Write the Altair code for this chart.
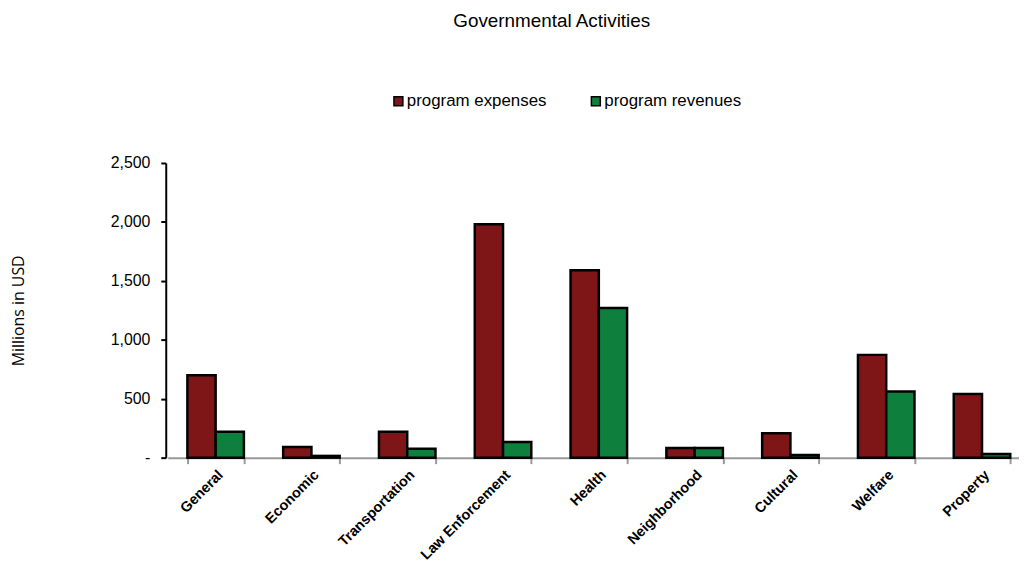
import altair as alt
import pandas as pd

categories = ["General", "Economic", "Transportation", "Law Enforcement", "Health",
              "Neighborhood", "Cultural", "Welfare", "Property"]
expenses = [700, 90, 220, 1980, 1590, 82, 208, 872, 540]
revenues = [220, 15, 76, 132, 1270, 82, 22, 562, 32]
series = ["program expenses", "program revenues"]
colors = ["#7E1517", "#0F7F3D"]

rows = []
for c, e, r in zip(categories, expenses, revenues):
    rows.append({"category": c, "series": series[0], "value": e})
    rows.append({"category": c, "series": series[1], "value": r})
df = pd.DataFrame(rows)

FONT = "Liberation Sans"

chart = alt.Chart(df).mark_bar(stroke="black", strokeWidth=2.5).encode(
    x=alt.X("category:N", sort=categories, title=None,
            scale=alt.Scale(paddingInner=0.41, paddingOuter=0.205, range=[2, 871]),
            axis=alt.Axis(labelAngle=-45, labelFont=FONT, labelFontSize=14.5,
                          labelFontWeight="bold", labelColor="black",
                          domainColor="#999999", domainWidth=2,
                          tickColor="#999999", tickWidth=2, tickSize=6,
                          tickBand="extent", labelPadding=4)),
    xOffset=alt.XOffset("series:N", sort=series),
    y=alt.Y("value:Q", title="Millions in USD",
            scale=alt.Scale(domain=[0, 2500], nice=False),
            axis=alt.Axis(values=[0, 500, 1000, 1500, 2000, 2500],
                          labelExpr="datum.value == 0 ? '-' : format(datum.value, ',')",
                          grid=False, domainColor="black", domainWidth=2,
                          tickColor="black", tickWidth=2, tickSize=5,
                          labelFont=FONT, labelFontSize=16, labelColor="black",
                          titleFont="Open Sans", titleFontSize=16, titleFontWeight="normal",
                          titleColor="black", titlePadding=84, labelPadding=11)),
    color=alt.Color("series:N", sort=series,
                    scale=alt.Scale(domain=series, range=colors),
                    legend=alt.Legend(title=None, orient="none", legendX=226, legendY=-71,
                                      direction="horizontal", symbolType="square",
                                      symbolSize=81, symbolStrokeColor="black",
                                      symbolStrokeWidth=1.5, labelFont=FONT,
                                      labelFontSize=17, labelColor="black",
                                      columnPadding=41, labelOffset=0)),
).properties(
    width=860, height=297,
    autosize=alt.AutoSizeParams(type="none"),
    title=alt.TitleParams("Governmental Activities", font=FONT, fontSize=19,
                          fontWeight="normal", color="black", anchor="middle",
                          dx=-41, offset=62),
    padding={"left": 159, "top": 154, "right": 0, "bottom": 110},
).configure_view(stroke=None)

chart.save("out.html", embed_options={"renderer": "svg", "actions": False})
